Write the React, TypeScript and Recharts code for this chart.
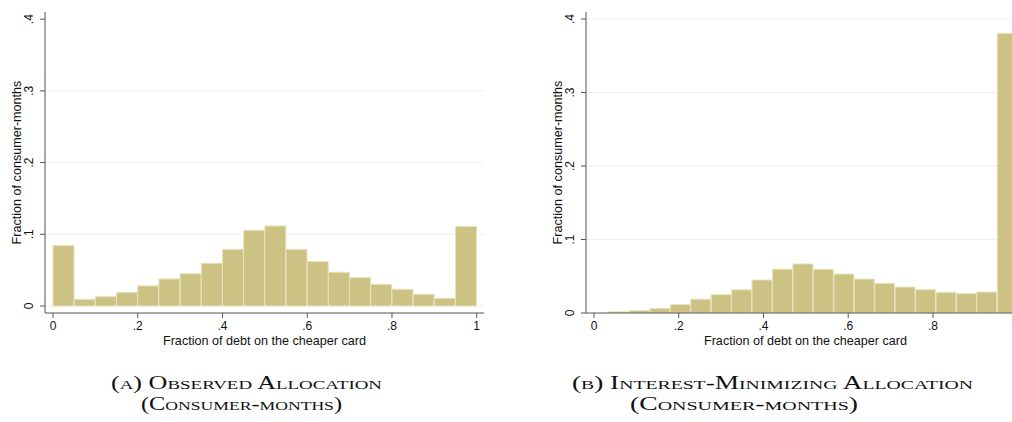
import React from 'react';
import { BarChart, Bar, XAxis, YAxis, CartesianGrid } from 'recharts';

// Panel (a): observed allocation — 20 bins of width .05 on [0, 1]
const obsBinCenters = [0.025, 0.075, 0.125, 0.175, 0.225, 0.275, 0.325, 0.375, 0.425, 0.475,
  0.525, 0.575, 0.625, 0.675, 0.725, 0.775, 0.825, 0.875, 0.925, 0.975];
const obsFractions = [0.0842, 0.0093, 0.013, 0.019, 0.028, 0.0377, 0.045, 0.0595, 0.079, 0.1056,
  0.1116, 0.079, 0.062, 0.047, 0.0395, 0.030, 0.0233, 0.0163, 0.0107, 0.111];

// Panel (b): interest-minimizing allocation — 20 bins on [.0354, 1]
const optBinCenters = [0.0595, 0.1078, 0.156, 0.2042, 0.2524, 0.3007, 0.3489, 0.3971, 0.4454, 0.4936,
  0.5418, 0.5901, 0.6383, 0.6865, 0.7347, 0.783, 0.8312, 0.8794, 0.9276, 0.9759];
const optFractions = [0.0016, 0.0033, 0.0061, 0.0115, 0.0188, 0.025, 0.0315, 0.0449, 0.0596, 0.0668,
  0.0594, 0.053, 0.0462, 0.0403, 0.0353, 0.0317, 0.0281, 0.0263, 0.0285, 0.3806];

const obsXTicks = [0, 0.2, 0.4, 0.6, 0.8, 1];
const optXTicks = [0, 0.2, 0.4, 0.6, 0.8];
const xTickValues = [0, 0.2, 0.4, 0.6, 0.8, 1];
const xTickLabels = ['0', '.2', '.4', '.6', '.8', '1'];
const yTicks = [0, 0.1, 0.2, 0.3, 0.4];
const yTickLabels = ['0', '.1', '.2', '.3', '.4'];

const xTitle = 'Fraction of debt on the cheaper card';
const yTitle = 'Fraction of consumer-months';

const SANS = '"Liberation Sans", Arial, sans-serif';
const SERIF = '"Liberation Serif", "DejaVu Serif", serif';
const BAR_FILL = '#cbc283';
const BAR_EDGE = '#e8e3bd';
const AXIS = '#555555';
const GRID = '#e8f0f0';
const TEXT = '#111111';

const fmt = (v: number, ticks: number[], labels: string[]) => {
  const i = ticks.findIndex((t) => Math.abs(t - v) < 1e-9);
  return i >= 0 ? labels[i] : String(v);
};

const YTick = (props: any) => {
  const { x, y, payload } = props;
  return (
    <text
      transform={`translate(${x - 5},${y}) rotate(-90)`}
      textAnchor="middle"
      fontSize={12}
      fontFamily={SANS}
      fill={TEXT}
    >
      {fmt(payload.value, yTicks, yTickLabels)}
    </text>
  );
};

const YTitle = (props: any) => {
  const vb = props.viewBox || { x: 0, y: 12, width: 45, height: 301 };
  return (
    <text
      transform={`translate(${vb.x + 21},${vb.y + vb.height / 2}) rotate(-90)`}
      textAnchor="middle"
      fontSize={12.6}
      fontFamily={SANS}
      fill={TEXT}
    >
      {yTitle}
    </text>
  );
};

const XTitle = (props: any) => {
  const vb = props.viewBox || { x: 45, y: 313, width: 439, height: 37 };
  return (
    <text
      x={vb.x + vb.width / 2}
      y={vb.y + 31.5}
      textAnchor="middle"
      fontSize={12.6}
      fontFamily={SANS}
      fill={TEXT}
    >
      {xTitle}
    </text>
  );
};

type HistProps = {
  centers: number[];
  values: number[];
  yDomain: [number, number];
  grid: number[];
  xTicks: number[];
};

const Hist = ({ centers, values, yDomain, grid, xTicks }: HistProps) => {
  const data = centers.map((c, i) => ({ x: c, f: values[i] }));
  return (
    <BarChart
      width={500}
      height={350}
      data={data}
      margin={{ top: 12, right: 16, bottom: 0, left: 0 }}
      barCategoryGap={0}
      barGap={0}
    >
      <CartesianGrid
        horizontal
        vertical={false}
        horizontalValues={grid}
        stroke={GRID}
        strokeWidth={1}
      />
      <XAxis
        type="number"
        dataKey="x"
        domain={[-0.0189, 1.0172]}
        allowDataOverflow
        ticks={xTicks}
        interval={0}
        tickFormatter={(v: number) => fmt(v, xTickValues, xTickLabels)}
        height={37}
        tickSize={5}
        tickMargin={3}
        stroke={AXIS}
        tick={{ fill: TEXT, fontSize: 12, fontFamily: SANS }}
        label={{ content: <XTitle /> } as any}
      />
      <YAxis
        type="number"
        domain={yDomain}
        allowDataOverflow
        ticks={yTicks}
        interval={0}
        width={45}
        tickSize={5}
        stroke={AXIS}
        tick={<YTick />}
        label={{ content: <YTitle /> } as any}
      />
      <Bar
        dataKey="f"
        fill={BAR_FILL}
        stroke={BAR_EDGE}
        strokeWidth={1}
        isAnimationActive={false}
      />
    </BarChart>
  );
};

const captionStyle = {
  fontFamily: SERIF,
  fontVariant: 'small-caps',
  fill: '#111',
} as any;

export default function App() {
  return (
    <div
      style={{
        position: 'fixed',
        left: 0,
        top: 0,
        width: 1012,
        height: 422,
        overflow: 'hidden',
        background: '#ffffff',
      }}
    >
      <div style={{ position: 'absolute', left: 0, top: 0 }}>
        <Hist centers={obsBinCenters} values={obsFractions} yDomain={[-0.0098, 0.41]} grid={[0, 0.1, 0.2, 0.3]} xTicks={obsXTicks} />
      </div>
      <div style={{ position: 'absolute', left: 541, top: 0 }}>
        <Hist centers={optBinCenters} values={optFractions} yDomain={[0, 0.4095]} grid={[0.1, 0.2, 0.3, 0.4]} xTicks={optXTicks} />
      </div>
      <svg width={1012} height={70} style={{ position: 'absolute', left: 0, top: 352 }}>
        <text x={111} y={37} fontSize={18} textLength={271} lengthAdjust="spacingAndGlyphs" style={captionStyle}>
          (a) Observed Allocation
        </text>
        <text x={141} y={58} fontSize={18} textLength={201} lengthAdjust="spacingAndGlyphs" style={captionStyle}>
          (Consumer-months)
        </text>
        <text x={572} y={37} fontSize={18} textLength={401} lengthAdjust="spacingAndGlyphs" style={captionStyle}>
          (b) Interest-Minimizing Allocation
        </text>
        <text x={630} y={58} fontSize={18} textLength={228} lengthAdjust="spacingAndGlyphs" style={captionStyle}>
          (Consumer-months)
        </text>
      </svg>
    </div>
  );
}
